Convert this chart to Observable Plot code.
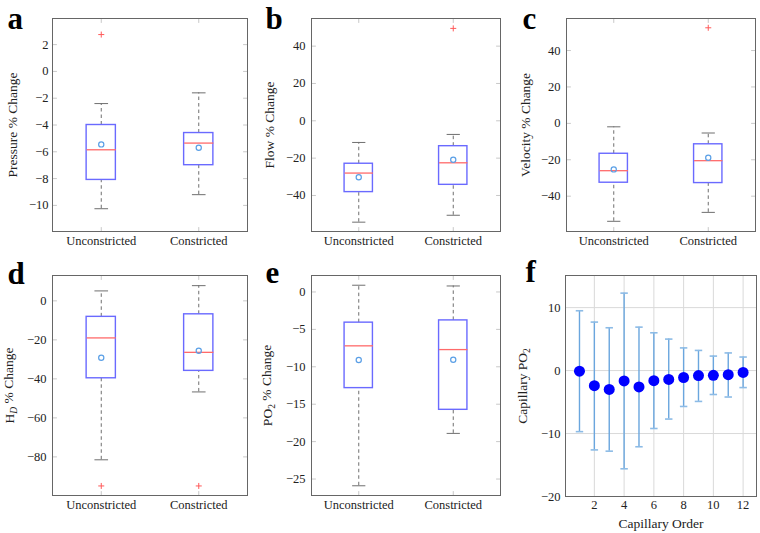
<!DOCTYPE html>
<html>
<head>
<meta charset="utf-8">
<script src="https://cdn.jsdelivr.net/npm/d3@7"></script>
<script src="https://cdn.jsdelivr.net/npm/@observablehq/plot@0.6"></script>
<style>
  html, body { margin: 0; padding: 0; background: #fff; }
  #chart { position: relative; width: 760px; height: 533px; overflow: hidden; background: #fff; }
  #chart svg { position: absolute; overflow: visible; }
</style>
</head>
<body>
<div id="chart"></div>
<script>
// ---------- data ----------
const categories = ["Unconstricted", "Constricted"];
// each row: [whisker low, Q1, median, Q3, whisker high, mean]
const pressureStats = [[-10.25, -8.1, -5.85, -4.0, -2.4, -5.45], [-9.2, -7.0, -5.35, -4.6, -1.6, -5.7]];
const pressureOutliers = [[1, 2.75]];
const pressureTicks = [-10, -8, -6, -4, -2, 0, 2];

const flowStats = [[-54.3, -38.2, -28, -23, -11.6, -30.2], [-50.6, -34.3, -22.5, -13.6, -7.3, -20.9]];
const flowOutliers = [[2, 49.5]];
const flowTicks = [-40, -20, 0, 20, 40];

const velocityStats = [[-53.8, -32.6, -26, -16.7, -1.9, -25.3], [-48.9, -32.8, -20.5, -11.5, -5.3, -18.9]];
const velocityOutliers = [[2, 52.5]];
const velocityTicks = [-40, -20, 0, 20, 40];

const hdStats = [[-81.5, -39.7, -19, -8.2, 5.1, -29.2], [-46.7, -35.9, -26.4, -6.9, 7.8, -25.6]];
const hdOutliers = [[1, -94.9], [2, -94.9]];
const hdTicks = [-80, -60, -40, -20, 0];

const po2Stats = [[-25.9, -12.85, -7.2, -4.1, 0.9, -9.1], [-18.9, -15.75, -7.7, -3.8, 0.8, -9.05]];
const po2Outliers = [];
const po2Ticks = [-25, -20, -15, -10, -5, 0];

const capillaryOrder = [1, 2, 3, 4, 5, 6, 7, 8, 9, 10, 11, 12];
const capillaryMean = [-0.1, -2.4, -3.0, -1.65, -2.6, -1.6, -1.4, -1.1, -0.8, -0.75, -0.65, -0.3];
const capillaryHigh = [9.5, 7.7, 6.8, 12.3, 6.9, 6.0, 5.0, 3.6, 3.2, 2.3, 2.8, 2.15];
const capillaryLow = [-9.7, -12.6, -12.8, -15.6, -12.1, -9.2, -7.7, -5.7, -4.9, -3.8, -4.2, -2.7];
const capillaryXTicks = [2, 4, 6, 8, 10, 12];
const capillaryYTicks = [-20, -10, 0, 10];

// ---------- helpers ----------
const FONT = "Liberation Serif, serif";
const chart = document.getElementById("chart");
const tickShape = { draw(context, l) { context.moveTo(0, 0); context.lineTo(0, -l); } };
const plusSymbol = {
  draw(context, size) {
    const r = Math.sqrt(size / Math.PI);
    context.moveTo(-r, 0); context.lineTo(r, 0);
    context.moveTo(0, -r); context.lineTo(0, r);
  }
};

function innerTicks(xTicks, yTicks) {
  const o = { length: 4, anchor: "start", shape: tickShape, stroke: "#c8c8c8", strokeWidth: 1 };
  return [
    Plot.vector(yTicks, { y: d => d, frameAnchor: "left", rotate: 90, ...o }),
    Plot.vector(yTicks, { y: d => d, frameAnchor: "right", rotate: -90, ...o }),
    Plot.vector(xTicks, { x: d => d, frameAnchor: "bottom", rotate: 0, ...o }),
    Plot.vector(xTicks, { x: d => d, frameAnchor: "top", rotate: 180, ...o })
  ];
}

function place(svg, left, top) {
  svg.style.left = left + "px";
  svg.style.top = top + "px";
  chart.appendChild(svg);
}

function fixSubscript(svg, key, before, sub, after, italic) {
  svg.querySelectorAll("text").forEach(t => {
    if (t.textContent !== key) return;
    while (t.firstChild) t.removeChild(t.firstChild);
    const ns = "http://www.w3.org/2000/svg";
    const a = document.createElementNS(ns, "tspan"); a.textContent = before;
    const b = document.createElementNS(ns, "tspan"); b.textContent = sub;
    b.setAttribute("dy", "0.3em"); b.setAttribute("font-size", "9.5");
    if (italic) b.setAttribute("font-style", "italic");
    const c = document.createElementNS(ns, "tspan"); c.textContent = after;
    c.setAttribute("dy", "-0.3em");
    t.appendChild(a); t.appendChild(b); t.appendChild(c);
  });
}

function letterMark(letter, dx, dy) {
  return Plot.text([letter], {
    frameAnchor: "top-left", textAnchor: "start", lineAnchor: "middle", dx, dy,
    fontSize: 31, fontWeight: "bold", fill: "#000", fontFamily: FONT
  });
}

function yTitle(label, dx) {
  return Plot.text([label], { frameAnchor: "left", textAnchor: "middle", lineAnchor: "middle", dx, rotate: -90, fontSize: 13.5, fill: "#222", fontFamily: FONT });
}

function boxPanel(p) {
  const rows = p.stats.map((s, i) => ({
    pos: i + 1, low: s[0], q1: s[1], median: s[2], q3: s[3], high: s[4], mean: s[5]
  }));
  const outs = p.outliers.map(o => ({ pos: o[0], value: o[1] }));
  const hw = 0.15, cw = 0.07;
  const svg = Plot.plot({
    width: p.width, height: p.height,
    marginLeft: p.ml, marginRight: p.mr, marginTop: p.mt, marginBottom: p.mb,
    style: { fontFamily: FONT, fontSize: "12.5px", background: "transparent", color: "#222", overflow: "visible" },
    x: { domain: [0.5, 2.5] },
    y: { domain: p.domain },
    marks: [
      ...innerTicks([1, 2], p.ticks),
      Plot.ruleX(rows, { x: "pos", y1: "q3", y2: "high", stroke: "#6f6f6f", strokeDasharray: "3.5,3" }),
      Plot.ruleX(rows, { x: "pos", y1: "low", y2: "q1", stroke: "#6f6f6f", strokeDasharray: "3.5,3" }),
      Plot.link(rows, { x1: d => d.pos - cw, x2: d => d.pos + cw, y1: "high", y2: "high", stroke: "#6f6f6f" }),
      Plot.link(rows, { x1: d => d.pos - cw, x2: d => d.pos + cw, y1: "low", y2: "low", stroke: "#6f6f6f" }),
      Plot.rect(rows, { x1: d => d.pos - hw, x2: d => d.pos + hw, y1: "q1", y2: "q3", fill: "none", stroke: "#6a6aff", strokeWidth: 1.4 }),
      Plot.link(rows, { x1: d => d.pos - hw, x2: d => d.pos + hw, y1: "median", y2: "median", stroke: "#ff6a6a", strokeWidth: 1.3 }),
      Plot.dot(rows, { x: "pos", y: "mean", r: 2.6, fill: "none", stroke: "#5a9fe6", strokeWidth: 1.2 }),
      Plot.dot(outs, { x: "pos", y: "value", r: 3, symbol: plusSymbol, fill: "none", stroke: "#ff5a5a", strokeWidth: 1 }),
      Plot.frame({ stroke: "#666", strokeWidth: 1 }),
      Plot.axisX([1, 2], { tickSize: 0, tickPadding: 5, tickFormat: d => categories[d - 1], label: null, fontSize: 12.5, fontFamily: FONT }),
      Plot.axisY(p.ticks, { tickSize: 0, tickPadding: p.pad, label: null, fontSize: 12.5, fontFamily: FONT }),
      yTitle(p.label, p.labelDx),
      letterMark(p.letter, p.letterDx, p.letterDy)
    ]
  });
  return svg;
}

// ---------- panels ----------
place(boxPanel({ stats: pressureStats, outliers: pressureOutliers, ticks: pressureTicks, domain: [-11.95, 3.95],
  label: "Pressure % Change", letter: "a", width: 255, height: 262, ml: 52, mr: 8, mt: 18, mb: 31,
  pad: 4, labelDx: -40, letterDx: -45, letterDy: 0.2 }), 0, 0);

place(boxPanel({ stats: flowStats, outliers: flowOutliers, ticks: flowTicks, domain: [-59.3, 54.8],
  label: "Flow % Change", letter: "b", width: 255, height: 262, ml: 56, mr: 10, mt: 18, mb: 31,
  pad: 6, labelDx: -42, letterDx: -46, letterDy: 0.2 }), 255, 0);

place(boxPanel({ stats: velocityStats, outliers: velocityOutliers, ticks: velocityTicks, domain: [-59.4, 57.6],
  label: "Velocity % Change", letter: "c", width: 250, height: 262, ml: 56, mr: 5, mt: 18, mb: 31,
  pad: 6, labelDx: -41, letterDx: -44, letterDy: 0.2 }), 510, 0);

const svgD = boxPanel({ stats: hdStats, outliers: hdOutliers, ticks: hdTicks, domain: [-99.8, 13],
  label: "H_D % Change", letter: "d", width: 255, height: 271, ml: 52, mr: 8, mt: 13, mb: 38,
  pad: 6, labelDx: -43, letterDx: -45, letterDy: -1.9 });
fixSubscript(svgD, "H_D % Change", "H", "D", " % Change", true);
place(svgD, 0, 262);

const svgE = boxPanel({ stats: po2Stats, outliers: po2Outliers, ticks: po2Ticks, domain: [-27.2, 2.2],
  label: "PO_2 % Change", letter: "e", width: 255, height: 271, ml: 56, mr: 10, mt: 13, mb: 38,
  pad: 6, labelDx: -44, letterDx: -46, letterDy: -2.9 });
fixSubscript(svgE, "PO_2 % Change", "PO", "2", " % Change", false);
place(svgE, 255, 262);

// panel f
const capRows = capillaryOrder.map((o, i) => ({ order: o, mean: capillaryMean[i], high: capillaryHigh[i], low: capillaryLow[i] }));
const cap = 0.25;
const svgF = Plot.plot({
  width: 250, height: 271, marginLeft: 55, marginRight: 4, marginTop: 13, marginBottom: 37,
  style: { fontFamily: FONT, fontSize: "12.5px", background: "transparent", color: "#222", overflow: "visible" },
  x: { domain: [0.06, 12.9] },
  y: { domain: [-20, 15.1] },
  marks: [
    Plot.gridX(capillaryXTicks, { stroke: "#d9d9d9", strokeOpacity: 1 }),
    Plot.gridY(capillaryYTicks, { stroke: "#d9d9d9", strokeOpacity: 1 }),
    Plot.ruleX(capRows, { x: "order", y1: "low", y2: "high", stroke: "#6aa6de", strokeWidth: 1.4 }),
    Plot.link(capRows, { x1: d => d.order - cap, x2: d => d.order + cap, y1: "high", y2: "high", stroke: "#8cbbe6", strokeWidth: 1.6 }),
    Plot.link(capRows, { x1: d => d.order - cap, x2: d => d.order + cap, y1: "low", y2: "low", stroke: "#8cbbe6", strokeWidth: 1.6 }),
    Plot.dot(capRows, { x: "order", y: "mean", r: 5.5, fill: "#0000ff", stroke: "none" }),
    Plot.frame({ stroke: "#666", strokeWidth: 1 }),
    Plot.axisX(capillaryXTicks, { tickSize: 0, tickPadding: 4, label: null, fontSize: 12.5, fontFamily: FONT }),
    Plot.axisY(capillaryYTicks, { tickSize: 0, tickPadding: 5, label: null, fontSize: 12.5, fontFamily: FONT }),
    yTitle("Capillary PO_2", -43),
    Plot.text(["Capillary Order"], { frameAnchor: "bottom", textAnchor: "middle", lineAnchor: "middle", dy: 27, fontSize: 13.5, fill: "#222", fontFamily: FONT }),
    letterMark("f", -40, -3.9)
  ]
});
fixSubscript(svgF, "Capillary PO_2", "Capillary PO", "2", "", false);
place(svgF, 510, 262);
</script>
</body>
</html>
